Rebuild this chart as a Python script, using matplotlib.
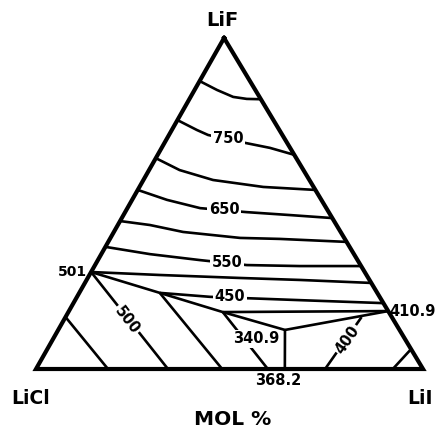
import matplotlib
matplotlib.use('Agg')
import matplotlib.pyplot as plt
import numpy as np

# Составы в мол. %: (LiF, LiI), остаток - LiCl
corners = [(100, 0), (0, 0), (0, 100), (100, 0)]

# Изотермы в поле LiF
iso_800 = [(87.0, 0), (84.3, 5.8), (82.2, 11.0), (81.6, 14.8), (81.5, 18.5)]
iso_750 = [(75.2, 0), (72.2, 6.5), (70.7, 10.1), (68.3, 20.9), (66.8, 28.0), (64.7, 35.3)]
iso_700 = [(63.7, 0), (60.1, 7.9), (57.1, 18.0), (55.0, 32.0), (54.1, 45.9)]
iso_650 = [(54.1, 0), (51.1, 9.0), (48.6, 18.8), (47.4, 31.3), (46.5, 43.1), (45.6, 54.4)]
iso_600 = [(44.7, 0), (43.5, 8.3), (41.4, 17.9), (39.6, 33.5), (39.3, 43.9), (38.4, 61.6)]
iso_550 = [(36.9, 0), (34.7, 12.6), (32.9, 26.4), (31.4, 39.2), (31.1, 53.0), (31.1, 68.9)]
iso_500 = [(29.3, 0), (28.4, 18.2), (27.5, 39.4), (26.9, 55.2), (26.0, 74.0)]
iso_450 = [(23.0, 20.8), (21.8, 34.4), (20.8, 58.1), (19.9, 80.1)]

# Пограничные кривые (долины)
valley_501 = [(29.3, 0), (23.0, 20.8), (17.2, 39.9), (11.8, 58.6)]
valley_410 = [(11.8, 58.6), (17.5, 82.5)]
valley_368 = [(11.8, 58.6), (0, 64.3)]
line_k2 = [(17.2, 39.9), (17.5, 82.5)]

# Изотермы в полях LiCl и LiI
licl_1 = [(15.7, 0), (0, 18.6)]
licl_500 = [(29.3, 0), (0, 34.1)]
licl_3 = [(23.0, 20.8), (0, 48.1)]
licl_4 = [(17.2, 39.9), (0, 59.9)]
lii_400 = [(15.7, 76.5), (0, 74.7)]
lii_2 = [(6.0, 94.0), (0, 92.2)]

inner_lines = [iso_800, iso_750, iso_700, iso_650, iso_600, iso_550, iso_500,
               iso_450, valley_501, valley_410, valley_368, line_k2,
               licl_1, licl_500, licl_3, licl_4, lii_400, lii_2]

# Подписи температур: текст, LiF, LiI, поворот
temp_labels = ['750', '650', '550', '450', '340.9', '500', '400']
temp_lif = [69.5, 48.3, 32.3, 21.8, 9.1, 14.8, 8.8]
temp_lii = [15.9, 25.1, 33.7, 39.5, 52.4, 16.3, 76.3]
temp_rot = [0, 0, 0, 0, 0, -52, 55]

# вершина LiF на рисунке чуть сдвинута влево от середины основания
APEX = 0.486


def tern(pts):
    p = np.array(pts, dtype=float) / 100
    f, i = p[:, 0], p[:, 1]
    return i + APEX * f, f


fig = plt.figure(figsize=(4.4, 4.29), dpi=100)
ax = fig.add_axes([0, 0, 1, 1])
ax.set_xlim(-36 / 387, 404 / 387)
ax.set_ylim(-60 / 331, 369 / 331)
ax.axis('off')

for line in inner_lines:
    x, y = tern(line)
    ax.plot(x, y, color='black', lw=1.9, solid_capstyle='butt')

x, y = tern(corners)
ax.plot(x, y, color='black', lw=3.0, solid_joinstyle='miter')

font = dict(family='DejaVu Sans', weight='bold', color='black')
box = dict(facecolor='white', edgecolor='none', pad=1.0)

for t, f, i, r in zip(temp_labels, temp_lif, temp_lii, temp_rot):
    x, y = tern([(f, i)])
    ax.text(x[0], y[0], t, fontsize=10.5, rotation=r,
            ha='center', va='center', bbox=box, **font)

# Вершины и двойные эвтектики
ax.text(0.481, 1.054, 'LiF', fontsize=14, ha='center', va='center', **font)
ax.text(-0.013, -0.088, 'LiCl', fontsize=13.5, ha='center', va='center', **font)
ax.text(0.992, -0.088, 'LiI', fontsize=13.5, ha='center', va='center', **font)
ax.text(0.509, -0.154, 'MOL %', fontsize=14.5, ha='center', va='center', **font)
ax.text(0.625, -0.036, '368.2', fontsize=10.5, ha='center', va='center', **font)
ax.text(0.972, 0.175, '410.9', fontsize=10.5, ha='center', va='center', **font)
ax.text(0.093, 0.293, '501', fontsize=10, ha='center', va='center', **font)

fig.savefig('out.png', dpi=100)
